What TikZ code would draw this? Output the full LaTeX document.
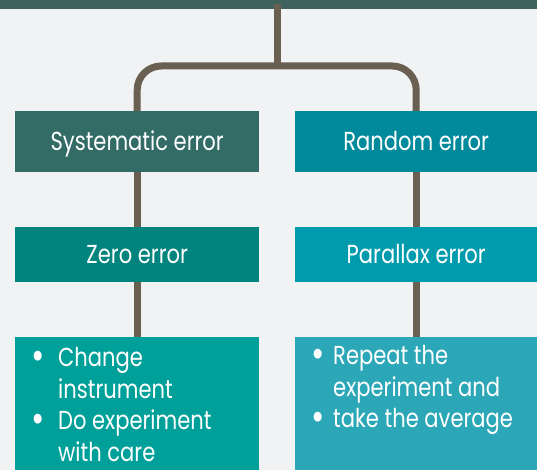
\documentclass[tikz,border=0pt]{standalone}
\usepackage{fontspec}
\setmainfont{Poppins}[FakeStretch=0.81]

\definecolor{bgc}{HTML}{F1F2F4}
\definecolor{barc}{HTML}{3F625F}
\definecolor{linkc}{HTML}{6A6051}
\definecolor{sysc}{HTML}{336B67}
\definecolor{ranc}{HTML}{008A9C}
\definecolor{zeroc}{HTML}{00847D}
\definecolor{parc}{HTML}{009CAE}
\definecolor{lworkc}{HTML}{00A09A}
\definecolor{rworkc}{HTML}{2BA7B8}

\newcommand\bul{\raisebox{-2.5pt}{\fontsize{40}{30}\selectfont\textbullet}}

\tikzset{
  box/.style={anchor=north west,inner sep=0pt,text=white,
    text height=18pt,text depth=0pt,
    font=\fontsize{26}{30}\selectfont},
  bullets/.style={anchor=base west,inner sep=0pt,text=white,
    font=\fontsize{26}{31.5}\selectfont},
  conn/.style={draw=linkc,line width=7pt},
}

\begin{document}
\begin{tikzpicture}[x=1pt,y=1pt]
\useasboundingbox (0,0) rectangle (537,470);

% Background and top bar
\fill[bgc] (0,0) rectangle (537,470);
\fill[barc] (0,461) rectangle (537,470);

% Left column
\node[box,fill=sysc,minimum width=244,minimum height=61] (sys) at (15,359) {Systematic error};
\node[box,fill=zeroc,minimum width=244,minimum height=55] (zero) at (15,243) {Zero error};
\node[box,fill=lworkc,minimum width=244,minimum height=133] (lfix) at (15,133) {};
\node[bullets] (ltext) at (31,103) {\begin{tabular}[t]{@{}p{27pt}@{}l@{}}
  \bul & Change\\
       & instrument\\
  \bul & Do experiment\\
       & with care
\end{tabular}};

% Right column
\node[box,fill=ranc,minimum width=242,minimum height=61] (ran) at (295,359) {Random error};
\node[box,fill=parc,minimum width=242,minimum height=55] (par) at (295,243) {Parallax error};
\node[box,fill=rworkc,minimum width=242,minimum height=133] (rfix) at (295,133) {};
\node[bullets] (rtext) at (311,105) {\begin{tabular}[t]{@{}p{22pt}@{}l@{}}
  \bul & Repeat the\\
       & experiment and\\
  \bul & take the average
\end{tabular}};

% Connectors
\coordinate (top) at (277,466);
\coordinate (hub) at (277,404);
\draw[conn] (top) -- (hub);
\draw[conn,rounded corners=24pt] (sys.north) |- (hub) -| (ran.north);
\draw[conn] (sys) -- (zero);
\draw[conn] (zero) -- (lfix);
\draw[conn] (ran) -- (par);
\draw[conn] (par) -- (rfix);

\end{tikzpicture}
\end{document}
